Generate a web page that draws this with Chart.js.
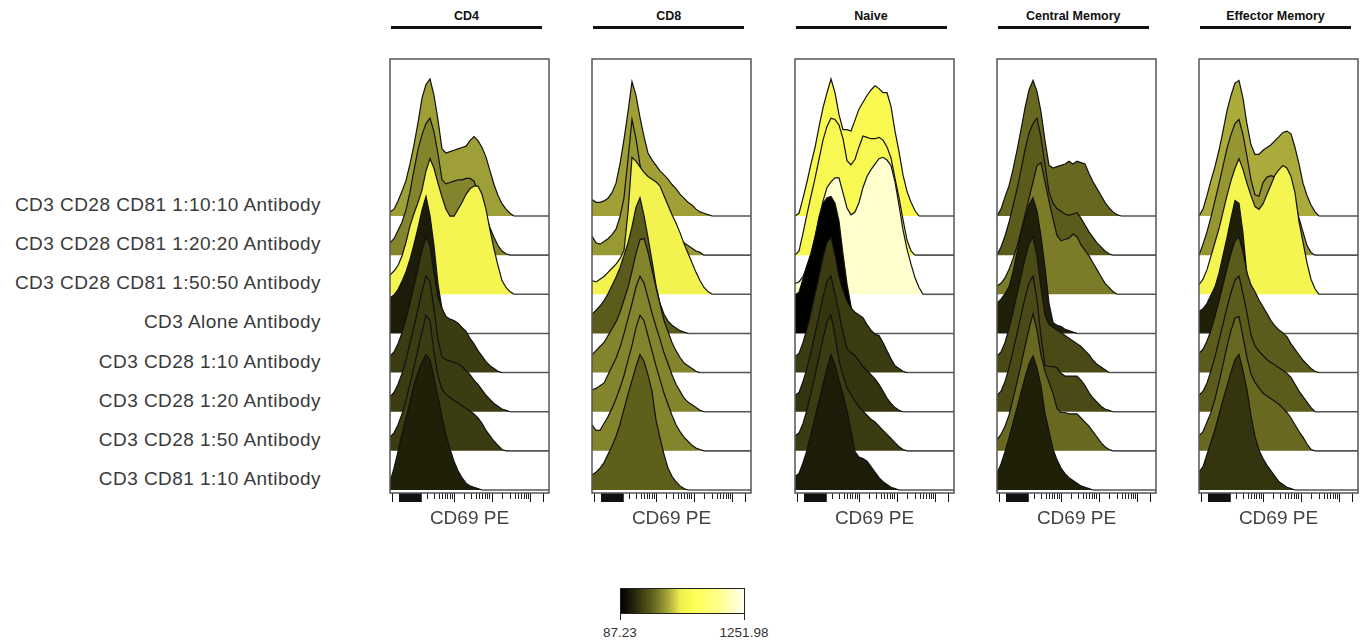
<!DOCTYPE html>
<html>
<head>
<meta charset="utf-8">
<title>CD69 PE layered histograms</title>
<script src="https://cdn.jsdelivr.net/npm/chart.js@4.4.1/dist/chart.umd.min.js"></script>
<style>
  body { margin: 0; background: #fff; font-family: "Liberation Sans", Arial, sans-serif; }
  #page { position: relative; width: 1360px; height: 643px; overflow: hidden; }
  .rowLabel { position: absolute; right: 1039px; height: 20px; line-height: 20px; font-size: 19px;
              letter-spacing: 0.45px; color: #3a3a3a; white-space: nowrap; text-align: right; }
  .head { position: absolute; width: 200px; text-align: center; font-weight: bold; font-size: 12.5px;
          line-height: 14px; color: #111; }
  .headLine { position: absolute; height: 3px; background: #111; }
  .panel { position: absolute; }
  #colorbar { position: absolute; left: 620px; top: 588px; width: 123px; height: 24px; border: 1px solid #222; }
  .cbTick { position: absolute; top: 613px; width: 1px; height: 7px; background: #222; }
  .cbLabel { position: absolute; width: 80px; text-align: center; font-size: 13.5px; line-height: 16px; color: #333; }
</style>
</head>
<body>
<div id="page"></div>
<script>
// --- values ---

const panels = ['CD4', 'CD8', 'Naive', 'Central Memory', 'Effector Memory'];
const samples = [
  'CD3 CD28 CD81 1:10:10 Antibody',
  'CD3 CD28 CD81 1:20:20 Antibody',
  'CD3 CD28 CD81 1:50:50 Antibody',
  'CD3 Alone Antibody',
  'CD3 CD28 1:10 Antibody',
  'CD3 CD28 1:20 Antibody',
  'CD3 CD28 1:50 Antibody',
  'CD3 CD81 1:10 Antibody'
];

// display channel along the CD69 PE axis (0 = left edge of a panel, 159 = right edge)
const channels = [0, 4, 8, 12, 16, 20, 24, 28, 32, 36, 40, 44, 48, 52, 56, 60, 64, 68, 72, 76,
                  80, 84, 88, 92, 96, 100, 104, 108, 112, 116, 120, 124, 128, 159];

// counts, % of mode, one row per sample
const cd4 = [
  [3,5,11,18,26,38,52,68,86,96,100,88,70,49,46,47,48,49,50,51,55,58,55,50,43,33,23,15,9,5,2,0,0,0],
  [9,12,18,24,33,46,62,77,88,96,100,90,74,55,52,53,54,55,55,56,56,54,46,37,28,20,13,7,3,1,0,0,0,0],
  [14,17,21,28,38,50,59,67,76,90,99,92,81,71,62,57,57,62,67,73,77,79,79,73,62,47,33,21,10,5,2,0,0,0],
  [26,28,32,38,45,54,65,77,90,100,86,64,36,18,10,6,3,1,0,0,0,0,0,0,0,0,0,0,0,0,0,0,0,0],
  [12,15,21,29,39,51,63,76,89,99,93,72,55,47,41,39,38,36,33,30,25,21,16,12,8,5,3,1,0,0,0,0,0,0],
  [11,14,20,28,38,50,62,75,88,99,95,75,52,40,38,37,36,35,33,30,27,23,20,16,12,9,6,4,2,1,0,0,0,0],
  [10,13,19,27,37,49,61,74,87,99,95,72,55,45,41,39,37,35,33,31,29,27,24,20,15,11,7,4,1,0,0,0,0,0],
  [6,16,28,41,52,64,77,86,93,99,95,82,68,53,40,30,21,14,9,5,3,2,1,0,0,0,0,0,0,0,0,0,0,0]
];
const cd8 = [
  [12,10,10,11,13,17,24,38,56,76,98,88,72,58,46,41,37,33,30,27,23,20,16,13,10,8,5,3,2,1,0,0,0,0],
  [14,9,8,10,12,15,19,28,42,70,99,85,66,52,44,39,34,30,27,23,19,16,12,9,7,5,3,2,0,0,0,0,0,0],
  [10,9,11,13,16,19,22,26,32,60,100,97,93,89,86,84,82,79,72,65,58,52,45,37,30,23,16,10,5,2,0,0,0,0],
  [14,17,20,24,29,35,41,48,57,66,78,92,99,86,70,53,35,22,14,9,6,4,2,1,0,0,0,0,0,0,0,0,0,0],
  [13,16,19,22,27,32,37,44,53,62,74,87,97,98,88,75,62,50,38,30,22,16,11,7,5,3,1,0,0,0,0,0,0,0],
  [16,17,19,21,27,33,39,47,57,68,79,91,99,94,83,72,62,53,43,35,27,20,15,10,7,5,3,1,0,0,0,0,0,0],
  [19,15,15,20,25,31,38,46,55,66,77,90,99,95,84,73,62,52,42,34,26,19,14,10,7,4,2,1,0,0,0,0,0,0],
  [11,13,16,20,26,32,39,48,59,70,80,90,99,94,84,72,51,38,26,16,10,6,3,1,0,0,0,0,0,0,0,0,0,0]
];
const naive = [
  [0,2,13,25,38,50,65,79,90,100,90,74,63,63,62,70,78,83,88,92,95,93,90,90,80,62,47,30,18,10,4,0,0,0],
  [0,3,16,30,43,56,70,84,94,100,99,95,85,69,66,70,79,87,86,85,85,86,84,79,71,56,42,26,11,3,0,0,0,0],
  [8,9,13,20,30,42,55,68,78,82,85,85,74,63,58,60,67,78,86,91,95,99,100,98,94,82,65,47,33,22,12,5,0,0],
  [28,30,40,50,58,70,85,95,99,100,95,82,58,36,20,9,3,0,0,0,0,0,0,0,0,0,0,0,0,0,0,0,0,0],
  [12,14,22,32,44,57,70,84,95,99,86,70,60,52,47,44,42,40,35,31,28,27,22,16,10,5,3,1,0,0,0,0,0,0],
  [12,14,22,32,44,57,70,84,95,99,86,72,58,46,43,41,37,33,30,27,24,20,15,10,6,3,1,0,0,0,0,0,0,0],
  [11,13,20,30,42,55,68,82,94,99,84,66,55,46,41,36,32,29,26,23,21,18,15,12,9,6,3,1,0,0,0,0,0,0],
  [10,12,20,29,41,53,65,77,89,99,91,80,70,58,43,28,24,23,21,17,13,9,6,4,2,1,0,0,0,0,0,0,0,0]
];
const centralMemory = [
  [0,5,14,22,34,48,63,79,92,99,91,76,55,37,35,36,37,38,40,38,40,39,38,31,25,20,15,10,6,3,1,0,0,0],
  [0,6,14,24,36,48,62,77,89,96,100,86,66,46,38,34,32,30,29,30,31,27,22,17,13,9,6,3,1,0,0,0,0,0],
  [6,8,12,18,26,35,46,58,70,82,94,96,82,68,55,43,39,40,41,44,42,36,32,28,23,18,13,8,5,2,0,0,0,0],
  [22,25,29,34,45,59,73,84,94,99,89,71,48,22,8,6,5,3,2,1,0,0,0,0,0,0,0,0,0,0,0,0,0,0],
  [12,15,22,32,44,57,70,83,94,99,85,62,42,35,33,31,29,27,25,23,21,19,16,13,9,6,4,2,0,0,0,0,0,0],
  [12,15,22,32,44,57,70,83,94,99,82,55,34,33,33,32,28,26,26,26,26,23,19,14,10,7,4,2,1,0,0,0,0,0],
  [8,12,18,26,38,50,63,76,89,100,88,70,58,50,42,31,28,28,27,27,27,24,21,18,14,10,6,3,1,0,0,0,0,0],
  [12,19,28,38,49,60,71,82,92,98,89,76,56,43,30,22,16,12,9,7,5,3,2,1,0,0,0,0,0,0,0,0,0,0]
];
const effectorMemory = [
  [0,5,15,26,36,48,62,77,88,97,99,86,67,52,45,45,48,50,52,55,58,61,62,60,50,38,24,15,8,3,0,0,0,0],
  [0,8,17,28,40,52,65,78,88,96,99,88,72,55,44,43,53,57,58,57,54,51,48,44,38,27,17,7,2,0,0,0,0,0],
  [7,11,18,28,38,48,60,72,83,92,99,91,81,72,64,62,66,73,80,87,91,94,92,86,74,53,38,23,11,4,0,0,0,0],
  [16,18,22,28,34,44,57,70,84,97,95,73,42,28,18,10,4,1,0,0,0,0,0,0,0,0,0,0,0,0,0,0,0,0],
  [14,17,23,31,41,52,64,76,87,96,99,88,73,64,59,53,48,43,38,34,31,29,26,21,17,13,9,6,3,1,0,0,0,0],
  [12,15,21,30,40,52,64,76,87,96,99,86,72,56,48,44,41,38,36,34,32,30,28,25,20,15,11,7,3,0,0,0,0,0],
  [11,14,21,28,38,50,63,76,88,97,98,83,68,56,50,46,42,40,38,36,34,31,28,24,19,14,10,5,1,0,0,0,0,0],
  [13,17,26,35,44,55,66,76,86,95,99,87,73,54,39,29,23,18,14,10,6,4,2,1,0,0,0,0,0,0,0,0,0,0]
];

// CD69 PE intensity that sets each histogram's fill colour
const cd4Mfi = [518, 460, 700, 180, 280, 280, 280, 195];
const cd8Mfi = [520, 505, 690, 370, 460, 460, 460, 380];
const naiveMfi = [735, 725, 1170, 90, 280, 255, 280, 180];
const centralMemoryMfi = [400, 370, 440, 195, 320, 320, 400, 195];
const effectorMemoryMfi = [540, 495, 700, 195, 370, 370, 400, 255];

const colorRange = [87.23, 1251.98];
const colorLabels = ['87.23', '1251.98'];

// axis tick marks, in display channels
const minorTicks = [37, 44, 49, 52, 55, 58, 60, 62, 74, 81, 86, 89, 92, 95, 97, 99,
                    113, 120, 125, 128, 131, 134, 136, 138];
const majorTicks = [2, 10, 11, 12, 13, 14, 15, 16, 17, 18, 19, 20, 21, 22, 23, 24, 25, 26, 27, 28, 29, 30, 31,
                    64, 102, 140, 153];

// --- layout ---
const histograms = [cd4, cd8, naive, centralMemory, effectorMemory];
const mfis = [cd4Mfi, cd8Mfi, naiveMfi, centralMemoryMfi, effectorMemoryMfi];

const PANEL_LEFT = 390, PANEL_GAP = 202.25, FRAME_W = 159, FRAME_TOP = 59, FRAME_H = 434;
const PAD = 3, AXIS_H = 41;
const ROW_STEP = 28.57, Y_MIN = -2.2, Y_MAX = 314.6;

const heatStops = [
  [0.00, [0, 0, 0]],
  [0.12, [42, 42, 12]],
  [0.25, [94, 94, 28]],
  [0.38, [165, 165, 57]],
  [0.48, [238, 238, 78]],
  [0.60, [255, 255, 85]],
  [0.80, [255, 255, 140]],
  [1.00, [255, 255, 240]]
];

function heatColor(v) {
  const t = Math.min(1, Math.max(0, (v - colorRange[0]) / (colorRange[1] - colorRange[0])));
  for (let i = 1; i < heatStops.length; i++) {
    if (t <= heatStops[i][0]) {
      const [t0, c0] = heatStops[i - 1];
      const [t1, c1] = heatStops[i];
      const f = (t - t0) / (t1 - t0);
      return 'rgb(' + c0.map((a, k) => Math.round(a + (c1[k] - a) * f)).join(',') + ')';
    }
  }
  return 'rgb(255,255,240)';
}

const page = document.getElementById('page');

// sample labels on the left
samples.forEach((s, r) => {
  const el = document.createElement('div');
  el.className = 'rowLabel';
  el.style.top = (205 + r * 39.14 - 10) + 'px';
  el.textContent = s;
  page.appendChild(el);
});

const framePlugin = {
  id: 'frame',
  afterDraw(chart) {
    const { ctx, chartArea: a } = chart;
    ctx.save();
    ctx.strokeStyle = '#555';
    ctx.lineWidth = 1.5;
    ctx.strokeRect(a.left, a.top, a.right - a.left, a.bottom - a.top);
    ctx.restore();
  }
};

const isBlockTick = c => c.tick && c.tick.value >= 10 && c.tick.value <= 31;

panels.forEach((name, p) => {
  const left = PANEL_LEFT + p * PANEL_GAP;

  const head = document.createElement('div');
  head.className = 'head';
  head.style.left = (left + 76.5 - 100) + 'px';
  head.style.top = '9px';
  head.textContent = name;
  page.appendChild(head);

  const line = document.createElement('div');
  line.className = 'headLine';
  line.style.left = (left + 1) + 'px';
  line.style.top = '26px';
  line.style.width = '151px';
  page.appendChild(line);

  const canvas = document.createElement('canvas');
  canvas.className = 'panel';
  canvas.width = FRAME_W + 2 * PAD;
  canvas.height = FRAME_H + PAD + AXIS_H;
  canvas.style.left = (left - PAD) + 'px';
  canvas.style.top = (FRAME_TOP - PAD) + 'px';
  page.appendChild(canvas);

  const rows = histograms[p];
  const datasets = rows.map((vals, r) => {
    const base = (samples.length - 1 - r) * ROW_STEP;
    const flat = c => vals[c.p0DataIndex] === 0 && vals[c.p1DataIndex] === 0;
    return {
      label: samples[r],
      data: vals.map((v, k) => ({ x: channels[k], y: base + v })),
      fill: { value: base },
      backgroundColor: heatColor(mfis[p][r]),
      borderColor: '#111',
      borderWidth: 1.2,
      pointRadius: 0,
      tension: 0,
      order: samples.length - 1 - r,
      segment: {
        borderColor: c => flat(c) ? '#555' : '#111',
        borderWidth: c => flat(c) ? 1.6 : 1.2
      }
    };
  });

  new Chart(canvas, {
    type: 'line',
    data: { datasets },
    options: {
      responsive: false,
      animation: false,
      events: [],
      layout: { autoPadding: false, padding: { left: PAD, right: PAD, top: PAD, bottom: 0 } },
      plugins: { legend: { display: false }, tooltip: { enabled: false } },
      scales: {
        x: {
          type: 'linear', min: 0, max: FRAME_W, weight: 1,
          afterBuildTicks: axis => { axis.ticks = minorTicks.map(v => ({ value: v })); },
          afterFit: axis => { axis.height = AXIS_H; },
          ticks: { callback: () => '', autoSkip: false, maxRotation: 0 },
          grid: { drawOnChartArea: false, tickLength: 6, color: '#222', lineWidth: 1 },
          border: { display: false },
          title: { display: true, text: 'CD69 PE', color: '#444',
                   font: { family: '"Liberation Sans", Arial, sans-serif', size: 19 } }
        },
        xMajor: {
          type: 'linear', position: 'bottom', min: 0, max: FRAME_W, weight: 0,
          afterBuildTicks: axis => { axis.ticks = majorTicks.map(v => ({ value: v })); },
          afterFit: axis => { axis.height = 0; },
          ticks: { callback: () => '', autoSkip: false, maxRotation: 0 },
          grid: { drawOnChartArea: false, tickLength: 9, color: '#111',
                  lineWidth: c => isBlockTick(c) ? 1.8 : 1 },
          border: { display: false }
        },
        y: { display: false, min: Y_MIN, max: Y_MAX }
      }
    },
    plugins: [framePlugin]
  });
});

// colour scale
const bar = document.createElement('div');
bar.id = 'colorbar';
bar.style.background = 'linear-gradient(to right, ' +
  heatStops.map(s => 'rgb(' + s[1].join(',') + ') ' + (s[0] * 100) + '%').join(', ') + ')';
page.appendChild(bar);
[620, 744].forEach((x, i) => {
  const tick = document.createElement('div');
  tick.className = 'cbTick';
  tick.style.left = x + 'px';
  page.appendChild(tick);
  const lab = document.createElement('div');
  lab.className = 'cbLabel';
  lab.style.left = (x - 40) + 'px';
  lab.style.top = '625px';
  lab.textContent = colorLabels[i];
  page.appendChild(lab);
});
</script>
</body>
</html>
